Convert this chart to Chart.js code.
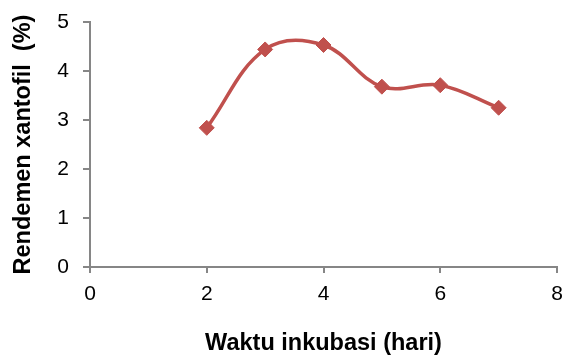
<!DOCTYPE html>
<html>
<head>
<meta charset="utf-8">
<script src="https://cdn.jsdelivr.net/npm/chart.js@4/dist/chart.umd.min.js"></script>
<style>
  html, body { margin: 0; padding: 0; background: #fff; }
  #wrap { width: 562px; height: 358px; }
</style>
</head>
<body>
<div id="wrap"><canvas id="c" width="562" height="358"></canvas></div>
<script>
// Incubation time (days) and xanthophyll yield (%)
const days = [2, 3, 4, 5, 6, 7];
const yieldPct = [2.84, 4.44, 4.53, 3.68, 3.71, 3.25];
const xTicks = [0, 2, 4, 6, 8];
const yTicks = [0, 1, 2, 3, 4, 5];

const red = '#C0504D';
const axisGray = '#868686';
const family = '"Liberation Sans", Arial, sans-serif';

// Right edge of the plot area on the canvas
const plotRight = 557;

// Pin the plot area's right edge after Chart.js has laid out the boxes
const plotEdge = {
  id: 'plotEdge',
  afterLayout(chart) {
    const xs = chart.scales.x;
    const area = chart.chartArea;
    area.right = plotRight;
    area.width = plotRight - area.left;
    xs.right = plotRight;
    xs.width = plotRight - xs.left;
    xs.configure();
  }
};

new Chart(document.getElementById('c'), {
  type: 'line',
  data: {
    datasets: [{
      data: days.map((d, i) => ({ x: d, y: yieldPct[i] })),
      borderColor: red,
      backgroundColor: red,
      borderWidth: 3.5,
      tension: 0.38,
      pointStyle: 'rectRot',
      pointRadius: 7.5,
      pointHoverRadius: 7.5,
      pointBorderWidth: 1,
      pointBorderColor: red,
      fill: false
    }]
  },
  options: {
    responsive: false,
    animation: false,
    layout: { padding: { left: 0, right: 0, top: 22, bottom: 0 } },
    plugins: { legend: { display: false }, tooltip: { enabled: false } },
    scales: {
      x: {
        type: 'linear',
        min: 0, max: 8,
        afterBuildTicks: s => { s.ticks = xTicks.map(v => ({ value: v })); },
        grid: { drawOnChartArea: false, color: axisGray, tickLength: 6, lineWidth: 2 },
        border: { color: axisGray, width: 2 },
        ticks: { color: '#000', font: { family, size: 21 }, padding: 9, maxRotation: 0 },
        title: {
          display: true,
          text: 'Waktu inkubasi (hari)',
          color: '#000',
          font: { family, size: 23.5, weight: 'bold' },
          padding: { top: 0, bottom: 0 }
        },
        afterFit: s => {
          s.height = 91;
          s.paddingLeft = 0; s.paddingRight = 562 - plotRight;
          s.paddingTop = 0; s.paddingBottom = 0;
        }
      },
      y: {
        min: 0, max: 5,
        afterBuildTicks: s => { s.ticks = yTicks.map(v => ({ value: v })); },
        grid: { drawOnChartArea: false, color: axisGray, tickLength: 7, lineWidth: 2 },
        border: { color: axisGray, width: 2 },
        ticks: { color: '#000', font: { family, size: 21 }, padding: 14 },
        title: {
          display: true,
          text: 'Rendemen xantofil  (%)',
          color: '#000',
          font: { family, size: 23.5, weight: 'bold' },
          padding: { top: 9, bottom: 0 }
        },
        afterFit: s => {
          s.width = 90;
          s.paddingTop = 0; s.paddingBottom = 0;
          s.paddingLeft = 0; s.paddingRight = 0;
        }
      }
    }
  },
  plugins: [plotEdge]
});
</script>
</body>
</html>
